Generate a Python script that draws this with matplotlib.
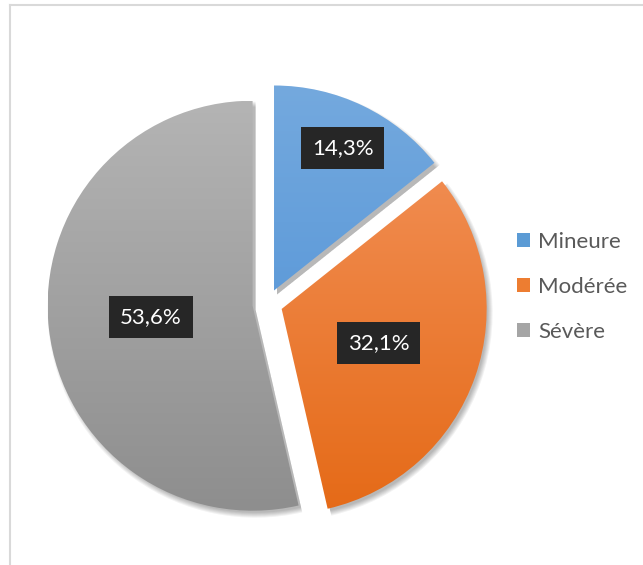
import numpy as np
import matplotlib.pyplot as plt
from matplotlib.colors import to_rgb
from matplotlib.patches import Patch, Wedge

categories = ['Mineure', 'Modérée', 'Sévère']
shares = [14.3, 32.1, 53.6]
top_colors = ['#74a9de', '#f3935c', '#b4b4b4']
bottom_colors = ['#4a8ed5', '#e56a17', '#8e8e8e']
legend_colors = ['#5b9bd5', '#ed7d31', '#a5a5a5']

W, H = 643, 565
plt.rcParams['font.family'] = ['Lato', 'DejaVu Sans']

fig = plt.figure(figsize=(W / 100, H / 100), dpi=100)
ax = fig.add_axes([0, 0, 1, 1])

center = (267.5, H - 304)
radius = 205
# explode is in data units (pixels here)
wedges, _ = ax.pie(shares, explode=[15, 15, 15], startangle=90, counterclock=False,
                   center=center, radius=radius)
ax.set_xlim(0, W)
ax.set_ylim(0, H)
ax.set_aspect('equal')
ax.axis('off')

# soft drop shadow under each slice
for w in wedges:
    for k in range(6):
        sh = Wedge((w.center[0] + 3, w.center[1] - 4), w.r + 3 - k, w.theta1, w.theta2,
                   facecolor='black', edgecolor='none', alpha=0.05, zorder=0)
        ax.add_patch(sh)

# vertical gradient fill clipped to each slice
for w, c0, c1 in zip(wedges, top_colors, bottom_colors):
    w.set_facecolor('none')
    w.set_zorder(2)
    grad = np.linspace(0, 1, 256)[:, None, None]
    img = (1 - grad) * np.array(to_rgb(c0)) + grad * np.array(to_rgb(c1))
    cx, cy = w.center
    im = ax.imshow(img, extent=(cx - w.r, cx + w.r, cy - w.r, cy + w.r),
                   origin='upper', aspect='auto', zorder=1, interpolation='bilinear')
    im.set_clip_path(w)

# data labels in dark boxes, placed along each slice's bisector
fracs = np.array(shares) / sum(shares)
ends = 90 - 360 * np.cumsum(fracs)
mids = ends + 180 * fracs
label_dist = [0.77, 0.50, 0.50]
for w, v, m, d in zip(wedges, shares, mids, label_dist):
    ang = np.deg2rad(m)
    cx, cy = w.center
    x = cx + d * w.r * np.cos(ang)
    y = cy + d * w.r * np.sin(ang)
    ax.text(x, y, f'{v:.1f}%'.replace('.', ','), ha='center', va='center',
            color='white', fontsize=16, zorder=5,
            bbox=dict(boxstyle='square,pad=0.5', facecolor='#262626', edgecolor='none'))

handles = [Patch(facecolor=c, edgecolor='none') for c in legend_colors]
leg = ax.legend(handles, categories, loc='center left', bbox_to_anchor=(508 / W, 1 - 287 / H),
                frameon=False, fontsize=16, labelcolor='#595959', handlelength=0.6,
                handleheight=0.6, handletextpad=0.35, labelspacing=1.12, borderaxespad=0)

# chart area border (only top and left visible in the crop)
ax.plot([9.5, 9.5], [0, H - 4.5], color='#d9d9d9', lw=1.5, clip_on=False)
ax.plot([9.5, W], [H - 4.5, H - 4.5], color='#d9d9d9', lw=1.5, clip_on=False)

fig.savefig('out.png', dpi=100)
